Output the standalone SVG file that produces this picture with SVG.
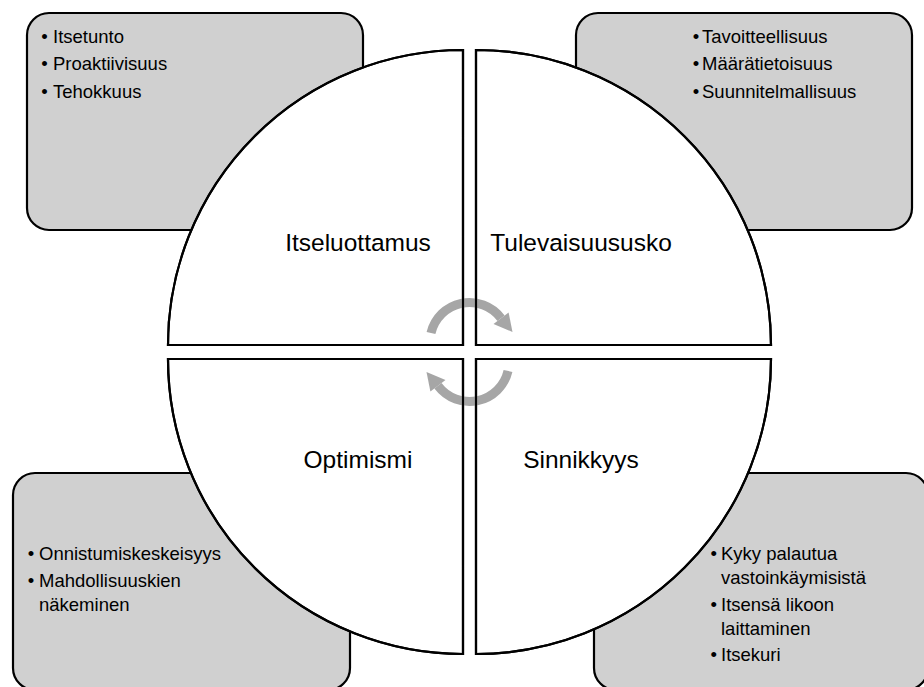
<svg xmlns="http://www.w3.org/2000/svg" xmlns:xlink="http://www.w3.org/1999/xlink" width="924" height="687" viewBox="0 0 924 687">
  <style>
    .box { fill: #d0d0d0; stroke: #000; stroke-width: 2.2; }
    .quad { fill: #fff; stroke: #000; stroke-width: 2.2; }
    .edge { fill: none; stroke: #000; stroke-width: 2.2; }
    .label { font-family: "Liberation Sans", Arial, sans-serif; font-size: 24.5px; fill: #000; text-anchor: middle; }
    .item { font-family: "Liberation Sans", Arial, sans-serif; font-size: 18.5px; fill: #000; }
    .dot { font-family: "Liberation Sans", Arial, sans-serif; font-size: 18.5px; fill: #000; text-anchor: middle; }
    .cycle-arc { fill: none; stroke: #a6a6a6; stroke-width: 9; }
    .cycle-head { fill: #a6a6a6; }
  </style>
  <defs>
    <!-- four quarter discs, radius 295, separated by a narrow cross-shaped gap -->
    <path id="q-tl" d="M463,345 H168 A295,295 0 0 1 463,50 Z"/>
    <path id="q-tr" d="M476,345 V50 A295,295 0 0 1 771,345 Z"/>
    <path id="q-bl" d="M463,359 V654 A295,295 0 0 1 168,359 Z"/>
    <path id="q-br" d="M476,359 H771 A295,295 0 0 1 476,654 Z"/>
    <!-- curved arrow, clockwise over the top -->
    <g id="cycle-arrow">
      <path class="cycle-arc" d="M431,333.1 A39.5,39.5 0 0 1 501.05,318.2"/>
      <polygon class="cycle-head" points="508.6,312.5 512.5,332 493.5,323.9"/>
    </g>
  </defs>

  <!-- corner detail boxes (behind the disc) -->
  <g id="box-itseluottamus">
    <rect class="box" x="27" y="13" width="336" height="217" rx="22" ry="22"/>
    <text class="dot" x="44.5" y="42.5">•</text><text class="item" x="53" y="42.5">Itsetunto</text>
    <text class="dot" x="44.5" y="70">•</text><text class="item" x="53" y="70">Proaktiivisuus</text>
    <text class="dot" x="44.5" y="97.5">•</text><text class="item" x="53" y="97.5">Tehokkuus</text>
  </g>
  <g id="box-tulevaisuususko">
    <rect class="box" x="576" y="13" width="336" height="217" rx="22" ry="22"/>
    <text class="dot" x="696" y="42.5">•</text><text class="item" x="702" y="42.5">Tavoitteellisuus</text>
    <text class="dot" x="696" y="70">•</text><text class="item" x="702" y="70">Määrätietoisuus</text>
    <text class="dot" x="696" y="97.5">•</text><text class="item" x="702" y="97.5">Suunnitelmallisuus</text>
  </g>
  <g id="box-optimismi">
    <rect class="box" x="13" y="473" width="337" height="217" rx="22" ry="22"/>
    <text class="dot" x="31" y="560">•</text><text class="item" x="39" y="560">Onnistumiskeskeisyys</text>
    <text class="dot" x="31" y="587">•</text><text class="item" x="39" y="587">Mahdollisuuskien</text>
    <text class="item" x="39" y="611">näkeminen</text>
  </g>
  <g id="box-sinnikkyys">
    <rect class="box" x="594" y="473" width="334" height="217" rx="22" ry="22"/>
    <text class="dot" x="713.7" y="560">•</text><text class="item" x="721" y="560">Kyky palautua</text>
    <text class="item" x="721" y="584">vastoinkäymisistä</text>
    <text class="dot" x="713.7" y="611">•</text><text class="item" x="721" y="611">Itsensä likoon</text>
    <text class="item" x="721" y="635">laittaminen</text>
    <text class="dot" x="713.7" y="661">•</text><text class="item" x="721" y="661">Itsekuri</text>
  </g>

  <!-- quadrants of the disc -->
  <g id="itseluottamus">
    <use xlink:href="#q-tl" class="quad"/>
    <text class="label" x="358" y="251">Itseluottamus</text>
  </g>
  <g id="tulevaisuususko">
    <use xlink:href="#q-tr" class="quad"/>
    <text class="label" x="581" y="251">Tulevaisuususko</text>
  </g>
  <g id="optimismi">
    <use xlink:href="#q-bl" class="quad"/>
    <text class="label" x="358" y="468">Optimismi</text>
  </g>
  <g id="sinnikkyys">
    <use xlink:href="#q-br" class="quad"/>
    <text class="label" x="581" y="468">Sinnikkyys</text>
  </g>

  <!-- circular arrows in the centre -->
  <g id="connectors">
    <use xlink:href="#cycle-arrow"/>
    <use xlink:href="#cycle-arrow" transform="rotate(180 469.5 352)"/>
  </g>

  <!-- quadrant outlines redrawn above the arrows -->
  <g id="quadrant-outlines">
    <use xlink:href="#q-tl" class="edge"/>
    <use xlink:href="#q-tr" class="edge"/>
    <use xlink:href="#q-bl" class="edge"/>
    <use xlink:href="#q-br" class="edge"/>
  </g>
</svg>
